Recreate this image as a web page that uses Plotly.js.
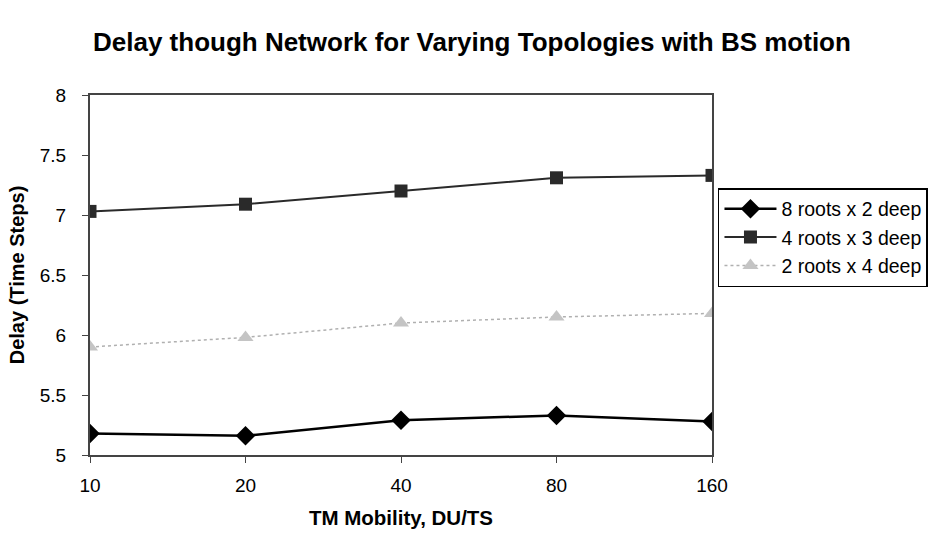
<!DOCTYPE html>
<html>
<head>
<meta charset="utf-8">
<script src="https://cdn.plot.ly/plotly-3.0.1.min.js"></script>
<style>html,body{margin:0;padding:0;background:#fff;}#chart{width:942px;height:535px;}</style>
</head>
<body>
<div id="chart"></div>
<script>
const categories = ["10", "20", "40", "80", "160"];
const seriesNames = ["8 roots x 2 deep", "4 roots x 3 deep", "2 roots x 4 deep"];
const roots8x2 = [5.18, 5.16, 5.29, 5.33, 5.28];
const roots4x3 = [7.03, 7.09, 7.20, 7.31, 7.33];
const roots2x4 = [5.90, 5.98, 6.10, 6.15, 6.18];
const yTicks = [5, 5.5, 6, 6.5, 7, 7.5, 8];

const FONT = "Liberation Sans, Arial, sans-serif";

const traces = [
  {
    x: categories, y: roots8x2, name: seriesNames[0], type: "scatter", mode: "lines+markers",
    line: {color: "#000000", width: 2.5},
    marker: {symbol: "diamond", size: 15, color: "#000000"}
  },
  {
    x: categories, y: roots4x3, name: seriesNames[1], type: "scatter", mode: "lines+markers",
    line: {color: "#2a2a2a", width: 2},
    marker: {symbol: "square", size: 13, color: "#2a2a2a"}
  },
  {
    x: categories, y: roots2x4, name: seriesNames[2], type: "scatter", mode: "lines+markers",
    line: {color: "#b0b0b0", width: 1.5, dash: "dot"},
    marker: {symbol: "triangle-up", size: 14, color: "#c4c4c4"}
  }
];

const layout = {
  width: 942, height: 535,
  margin: {l: 90, r: 230, t: 95, b: 80},
  paper_bgcolor: "#ffffff", plot_bgcolor: "#ffffff",
  font: {family: FONT, color: "#000000", size: 19},
  title: {
    text: "Delay though Network for Varying Topologies with BS motion",
    font: {family: FONT, size: 26, color: "#000000", weight: "bold"},
    x: 0.501, xanchor: "center", xref: "container", y: 0.922, yanchor: "middle"
  },
  xaxis: {
    type: "category", range: [0, 4],
    showgrid: false, zeroline: false,
    showline: true, linecolor: "#444444", linewidth: 2, mirror: true,
    ticks: "outside", ticklen: 6, tickcolor: "#444444",
    ticklabelstandoff: 6,
    tickfont: {family: FONT, size: 19},
    title: {text: "TM Mobility, DU/TS", font: {family: FONT, size: 20.5, weight: "bold"}, standoff: 16}
  },
  yaxis: {
    range: [5, 8], tickvals: yTicks, ticktext: yTicks.map(String),
    showgrid: false, zeroline: false,
    showline: true, linecolor: "#444444", linewidth: 2, mirror: true,
    ticks: "outside", ticklen: 6, tickcolor: "#444444",
    ticklabelstandoff: 12,
    tickfont: {family: FONT, size: 19},
    title: {text: "Delay (Time Steps)", font: {family: FONT, size: 20, weight: "bold"}, standoff: 10}
  },
  legend: {
    x: 1.0096, xanchor: "left", y: 0.604, yanchor: "middle",
    bgcolor: "#ffffff", bordercolor: "#000000", borderwidth: 1.5,
    font: {family: FONT, size: 19.5},
    itemwidth: 52, tracegroupgap: 0
  },
  showlegend: true
};

Plotly.newPlot("chart", traces, layout, {displayModeBar: false, staticPlot: true});
</script>
</body>
</html>
